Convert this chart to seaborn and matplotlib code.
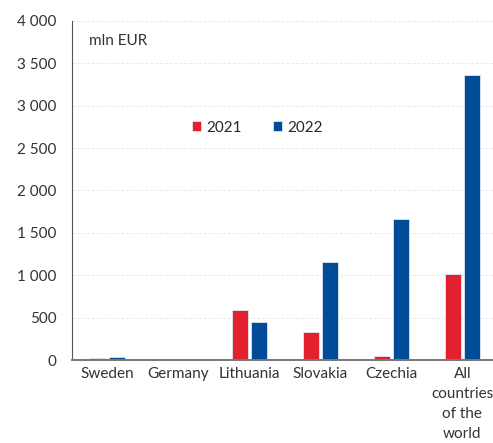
import matplotlib
matplotlib.use("Agg")
import matplotlib.pyplot as plt
import matplotlib.ticker as mticker
import seaborn as sns
import pandas as pd

# data (mln EUR)
countries = ["Sweden", "Germany", "Lithuania", "Slovakia", "Czechia",
             "All\ncountries\nof the\nworld"]
years = ["2021", "2022"]
values_2021 = [20, 0, 590, 330, 47, 1010]
values_2022 = [40, 0, 455, 1153, 1664, 3363]
y_ticks = [0, 500, 1000, 1500, 2000, 2500, 3000, 3500, 4000]

df = pd.DataFrame({
    "country": countries * 2,
    "year": [years[0]] * len(countries) + [years[1]] * len(countries),
    "value": values_2021 + values_2022,
})

sns.set_style("white")
plt.rcParams['font.family'] = ['Lato', 'DejaVu Sans']
plt.rcParams['font.size'] = 11

fig = plt.figure(figsize=(4.93, 4.43), dpi=100)
ax = fig.add_axes([0.146, 0.187, 0.864, 0.766])

palette = {"2021": "#E3202E", "2022": "#004C99"}
sns.barplot(data=df, x="country", y="value", hue="year", palette=palette,
            width=0.52, gap=0.12, edgecolor="#dfe6f0", linewidth=0.6,
            saturation=1, ax=ax)

ax.set_xlim(-0.5, len(countries) - 0.5)
ax.set_ylim(0, 4000)
ax.set_yticks(y_ticks)
ax.yaxis.set_major_formatter(
    mticker.FuncFormatter(lambda v, p: f"{int(v):,}".replace(",", " ")))
ax.grid(axis="y", color="#e8e8e8", linestyle=(0, (3, 2)), linewidth=0.7)
ax.set_axisbelow(True)

ax.set_xlabel("")
ax.set_ylabel("")
for s in ["top", "right"]:
    ax.spines[s].set_visible(False)
ax.spines["left"].set_color("#555555")
ax.spines["bottom"].set_color("#777777")
ax.spines["bottom"].set_linewidth(1.4)

ax.tick_params(axis="y", length=4, color="#555555", labelsize=11,
               labelcolor="#333333", pad=7)
ax.tick_params(axis="x", which="major", length=0, labelsize=11,
               labelcolor="#333333", pad=5)
ax.set_xticks([i + 0.5 for i in range(len(countries) - 1)], minor=True)
ax.tick_params(axis="x", which="minor", length=5, color="#555555")
for lbl in ax.get_xticklabels():
    lbl.set_linespacing(1.55)

ax.text(0.04, 0.96, "mln EUR", transform=ax.transAxes, fontsize=11,
        color="#333333", va="top", ha="left")

leg = ax.legend(loc="center", bbox_to_anchor=(0.435, 0.685), ncol=2,
                frameon=False, handlelength=0.6, handleheight=0.6,
                handletextpad=0.35, columnspacing=2.0, fontsize=11)

fig.savefig("out.png", dpi=100)
